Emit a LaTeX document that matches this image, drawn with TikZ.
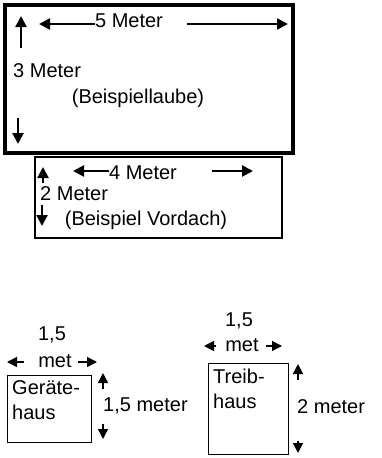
\documentclass[tikz,border=0pt]{standalone}
\usepackage{fontspec}
\setmainfont{Liberation Sans}
\usetikzlibrary{arrows.meta}
\begin{document}
\begin{tikzpicture}[x=1pt,y=-1pt, font=\fontsize{20}{25}\selectfont,
  lbl/.style={inner sep=0pt},
  dimbig/.style={line width=2.2pt, -{Triangle[length=11pt,width=11pt]}},
  dimsmall/.style={line width=1.4pt, -{Triangle[length=10pt,width=10pt]}},
  box/.style={draw, inner sep=0pt}]
\useasboundingbox (0,0) rectangle (382,458);

% Laube
\node[box, line width=4pt, minimum width=288pt, minimum height=148pt] (laube) at (149,79) {};
\node[lbl] (t5) at (129,21) {5 Meter};
\coordinate (a5l) at (39,24);
\coordinate (a5r0) at (187,24);
\coordinate (a5r1) at (288,24);
\draw[dimbig] (t5.west |- a5l) -- (a5l);
\draw[dimbig] (a5r0) -- (a5r1);
\coordinate (a3u0) at (21,48);
\coordinate (a3u1) at (21,16);
\draw[dimbig] (a3u0) -- (a3u1);
\node[lbl, anchor=west] (t3) at (13,71) {3 Meter};
\node[lbl] (tlaube) at (138,98) {(Beispiellaube)};
\coordinate (a3d0) at (18,118);
\coordinate (a3d1) at (18,144);
\draw[dimbig] (a3d0) -- (a3d1);

% Vordach
\node[box, line width=2.5pt, minimum width=247pt, minimum height=81pt] (vordach) at (158.5,197.5) {};
\coordinate (a2u0) at (43,183);
\coordinate (a2u1) at (43,167);
\draw[dimbig] (a2u0) -- (a2u1);
\node[lbl] (t4) at (143,173) {4 Meter};
\coordinate (a4l) at (73,171);
\coordinate (a4r0) at (212,171);
\coordinate (a4r1) at (253,171);
\draw[dimbig] (t4.west |- a4l) -- (a4l);
\draw[dimbig] (a4r0) -- (a4r1);
\node[lbl, anchor=west] (t2) at (40,194) {2 Meter};
\coordinate (a2d0) at (42,205);
\coordinate (a2d1) at (42,226);
\draw[dimbig] (a2d0) -- (a2d1);
\node[lbl] (tvordach) at (146,220) {(Beispiel Vordach)};

% Geraetehaus
\node[box, line width=1pt, minimum width=84pt, minimum height=67pt] (geraet) at (49,408.5) {};
\node[lbl, align=left, anchor=north west] (tgeraet) at (12,380) {Geräte-\\haus};
\node[lbl] (tg15) at (52,335) {1,5};
\node[lbl] (tgmet) at (55,361) {met};
\coordinate (agl0) at (24,362);
\coordinate (agl1) at (7,362);
\coordinate (agr0) at (78,362);
\coordinate (agr1) at (97,362);
\draw[dimsmall] (agl0) -- (agl1);
\draw[dimsmall] (agr0) -- (agr1);
\coordinate (agu0) at (103,389);
\coordinate (agu1) at (103,373);
\draw[dimsmall] (agu0) -- (agu1);
\node[lbl, anchor=west] (tg15m) at (103,406) {1,5 meter};
\coordinate (agd0) at (103,424);
\coordinate (agd1) at (103,439);
\draw[dimsmall] (agd0) -- (agd1);

% Treibhaus
\node[box, line width=1pt, minimum width=80pt, minimum height=91pt] (treib) at (248,408.5) {};
\node[lbl, align=left, anchor=north west] (ttreib) at (213,369) {Treib-\\haus};
\node[lbl] (tt15) at (239,321) {1,5};
\node[lbl] (ttmet) at (242,345) {met};
\coordinate (atl0) at (216,346);
\coordinate (atl1) at (204,346);
\coordinate (atr0) at (266,346);
\coordinate (atr1) at (282,346);
\draw[dimsmall] (atl0) -- (atl1);
\draw[dimsmall] (atr0) -- (atr1);
\coordinate (atu0) at (298,380);
\coordinate (atu1) at (298,364);
\draw[dimsmall] (atu0) -- (atu1);
\node[lbl, anchor=west] (tt2m) at (297,407) {2 meter};
\coordinate (atd0) at (298,441);
\coordinate (atd1) at (298,453);
\draw[dimsmall] (atd0) -- (atd1);
\end{tikzpicture}
\end{document}
